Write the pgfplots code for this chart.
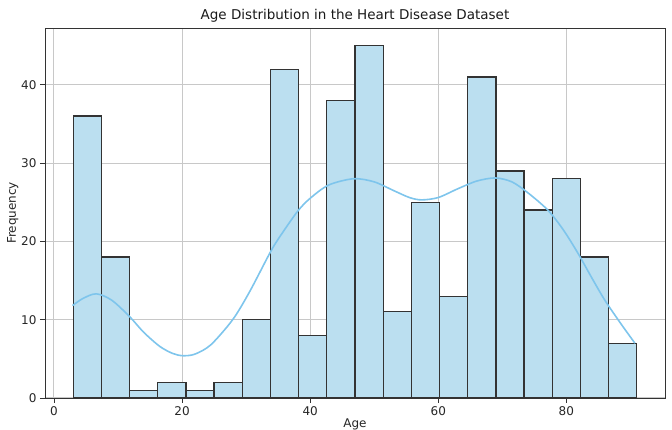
\documentclass[border=0pt]{standalone}
\usepackage{pgfplots}
\pgfplotsset{compat=1.18}
\usepackage{fontspec}
\setmainfont{DejaVu Sans}
\definecolor{skyblue}{HTML}{7EC5EC}
\definecolor{barfill}{HTML}{BBDFF0}
\definecolor{gridgray}{HTML}{C8C8C8}
\begin{document}
\begin{tikzpicture}
\begin{axis}[
  name=ax,
  scale only axis,
  width=620pt, height=370pt,
  xmin=-1.4, xmax=95.4,
  ymin=0, ymax=47.25,
  xtick={0,20,40,60,80},
  ytick={0,10,20,30,40},
  grid=major,
  major grid style={gridgray, line width=1pt},
  axis line style={black!80, line width=0.9pt},
  tick style={black!80, line width=0.9pt},
  tick align=outside,
  major tick length=5pt,
  xtick pos=bottom, ytick pos=left,
  /pgf/number format/assume math mode=true,
  ticklabel style={font=\fontsize{12}{14}\selectfont, text=black!85},
  xlabel={Age}, ylabel={Frequency},
  label style={font=\fontsize{12}{14}\selectfont, text=black!85},
  xlabel style={yshift=4pt},
  ylabel style={yshift=-4pt},
  title={Age Distribution in the Heart Disease Dataset},
  title style={font=\fontsize{13.5}{15}\selectfont, yshift=-4pt, text=black!90},
]
\addplot[ybar interval, fill=barfill, draw=black!80, line width=1.2pt] coordinates {
(3,36) (7.4,18) (11.8,1) (16.2,2) (20.6,1) (25,2) (29.4,10) (33.8,42) (38.2,8) (42.6,38)
(47,45) (51.4,11) (55.8,25) (60.2,13) (64.6,41) (69,29) (73.4,24) (77.8,28) (82.2,18) (86.6,7) (91,7)
};
\addplot[smooth, color=skyblue, line width=1.6pt] coordinates {
(2.9,11.8) (4.5,12.7) (6.6,13.3) (9,12.5) (11.8,10.4) (14,8.4) (16.5,6.6) (18.5,5.7) (20.1,5.4) (22,5.6) (24.5,6.8) (27.9,10.0) (30.5,13.5) (33.7,18.5) (35.1,20.4) (38,23.8) (40,25.5) (42.9,27.2) (46.8,28.0) (50,27.6) (53,26.5) (55.5,25.6) (57.4,25.3) (60,25.6) (63,26.7) (66,27.7) (68.9,28.1) (71.5,27.6) (74,26.2) (77.1,24.0) (79.5,21.5) (81.8,18.5) (84,15.3) (86,12.5) (88.5,9.5) (90.7,7.0)
};
\end{axis}
\pgfresetboundingbox
\path (ax.south west) ++(-45pt,-32pt) coordinate (bl);
\path (ax.north east) ++(7pt,28pt) coordinate (tr);
\path (bl) rectangle (tr);
\end{tikzpicture}
\end{document}
